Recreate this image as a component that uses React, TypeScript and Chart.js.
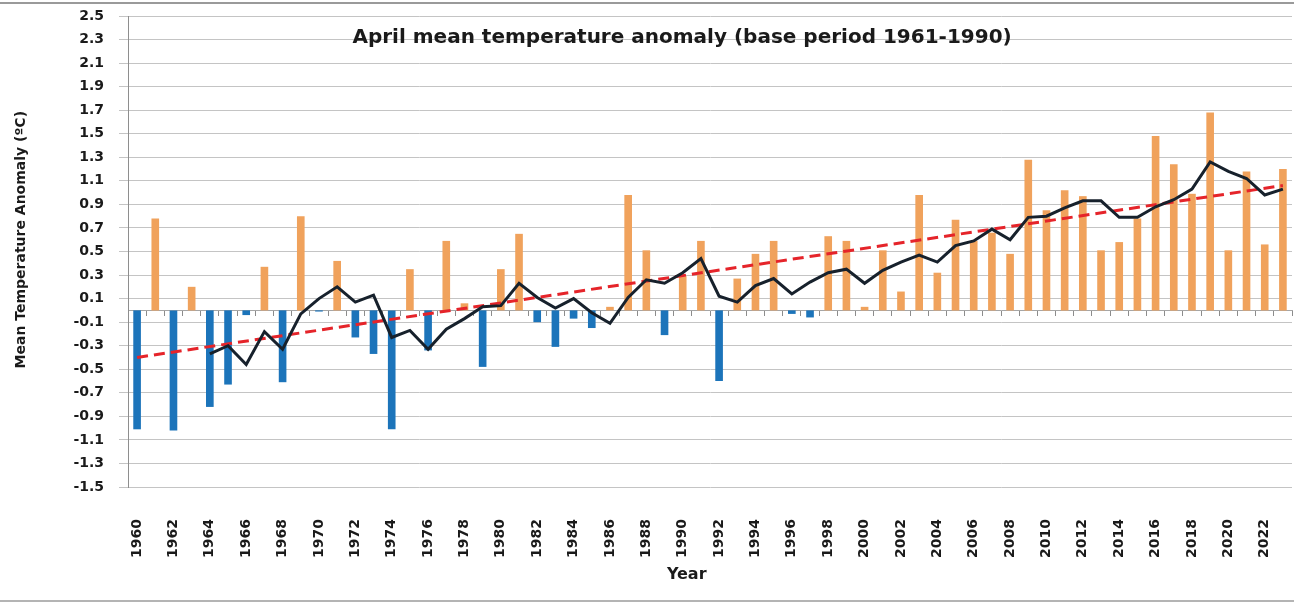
import React, { useEffect, useRef } from "react";
import { Chart, registerables } from "chart.js";

Chart.register(...registerables);

const YEARS: string[] = [
  "1960","1961","1962","1963","1964","1965","1966","1967","1968","1969",
  "1970","1971","1972","1973","1974","1975","1976","1977","1978","1979",
  "1980","1981","1982","1983","1984","1985","1986","1987","1988","1989",
  "1990","1991","1992","1993","1994","1995","1996","1997","1998","1999",
  "2000","2001","2002","2003","2004","2005","2006","2007","2008","2009",
  "2010","2011","2012","2013","2014","2015","2016","2017","2018","2019",
  "2020","2021","2022","2023",
];

const ANOMALY: number[] = [
  -1.01, 0.78, -1.02, 0.2, -0.82, -0.63, -0.04, 0.37, -0.61, 0.8,
  -0.01, 0.42, -0.23, -0.37, -1.01, 0.35, -0.34, 0.59, 0.06, -0.48,
  0.35, 0.65, -0.1, -0.31, -0.07, -0.15, 0.03, 0.98, 0.51, -0.21,
  0.29, 0.59, -0.6, 0.27, 0.48, 0.59, -0.03, -0.06, 0.63, 0.59,
  0.03, 0.51, 0.16, 0.98, 0.32, 0.77, 0.59, 0.66, 0.48, 1.28,
  0.85, 1.02, 0.97, 0.51, 0.58, 0.78, 1.48, 1.24, 0.99, 1.68,
  0.51, 1.18, 0.56, 1.2,
];

// 5-year running mean (starts at 1964)
const RUNNING_MEAN: (number | null)[] = [
  null, null, null, null, -0.37, -0.3, -0.46, -0.18, -0.33, -0.03,
  0.1, 0.2, 0.07, 0.13, -0.23, -0.17, -0.33, -0.16, -0.07, 0.03,
  0.04, 0.23, 0.11, 0.02, 0.1, -0.02, -0.11, 0.11, 0.26, 0.23,
  0.32, 0.44, 0.12, 0.07, 0.21, 0.27, 0.14, 0.24, 0.32, 0.35,
  0.23, 0.34, 0.41, 0.47, 0.41, 0.55, 0.59, 0.69, 0.6, 0.79,
  0.8, 0.87, 0.93, 0.93, 0.79, 0.79, 0.88, 0.94, 1.03, 1.26,
  1.18, 1.12, 0.98, 1.03,
];

// Linear trend end points (1960 and 2023)
const TREND_START = -0.4;
const TREND_END = 1.06;

const Y_MIN = -1.5;
const Y_MAX = 2.5;
const Y_STEP = 0.2;

const TITLE = "April mean temperature anomaly (base period 1961-1990)";
const Y_TITLE = "Mean Temperature Anomaly (ºC)";
const X_TITLE = "Year";

const ORANGE = "#F0A25C";
const BLUE = "#1C74BA";
const FONT = '"DejaVu Sans", Verdana, sans-serif';

export default function App() {
  const ref = useRef<HTMLCanvasElement | null>(null);

  useEffect(() => {
    if (!ref.current) return;
    const trend: (number | null)[] = YEARS.map((_, i) =>
      i === 0 ? TREND_START : i === YEARS.length - 1 ? TREND_END : null
    );

    const textPlugin = {
      id: "texts",
      beforeDraw(chart: any) {
        const ctx = chart.ctx;
        ctx.save();
        ctx.fillStyle = "#ffffff";
        ctx.fillRect(0, 0, chart.width, chart.height);
        ctx.strokeStyle = "#9a9a9a";
        ctx.lineWidth = 2;
        ctx.beginPath();
        ctx.moveTo(0, 3);
        ctx.lineTo(chart.width, 3);
        ctx.stroke();
        ctx.strokeStyle = "#b4b4b4";
        ctx.beginPath();
        ctx.moveTo(0, chart.height - 1);
        ctx.lineTo(chart.width, chart.height - 1);
        ctx.stroke();
        ctx.restore();
      },
      afterDraw(chart: any) {
        const ctx = chart.ctx;
        const ca = chart.chartArea;
        ctx.save();
        ctx.fillStyle = "#1a1a1a";
        ctx.textAlign = "center";
        ctx.textBaseline = "middle";
        ctx.font = `bold 20px ${FONT}`;
        ctx.fillText(TITLE, ca.left + ca.width * 0.476, ca.top + 22);
        ctx.font = `bold 16px ${FONT}`;
        ctx.fillText(X_TITLE, ca.left + ca.width * 0.48, ca.bottom + 88);
        ctx.translate(21, ca.top + ca.height * 0.475);
        ctx.rotate(-Math.PI / 2);
        ctx.font = `bold 14px ${FONT}`;
        ctx.fillText(Y_TITLE, 0, 0);
        ctx.restore();
      },
    };

    const chart = new Chart(ref.current, {
      type: "bar",
      data: {
        labels: YEARS,
        datasets: [
          {
            type: "line",
            label: "5-year mean",
            data: RUNNING_MEAN,
            borderColor: "#17212c",
            borderWidth: 3,
            pointRadius: 0,
            tension: 0,
            order: 1,
          } as any,
          {
            type: "line",
            label: "Trend",
            data: trend,
            borderColor: "#E5242A",
            borderWidth: 3,
            borderDash: [11, 6],
            pointRadius: 0,
            spanGaps: true,
            order: 2,
          } as any,
          {
            type: "bar",
            label: "Anomaly",
            data: ANOMALY,
            backgroundColor: ANOMALY.map((v) => (v >= 0 ? ORANGE : BLUE)),
            barPercentage: 0.42,
            categoryPercentage: 1,
            order: 3,
          } as any,
        ],
      },
      options: {
        responsive: false,
        animation: false,
        layout: { padding: { top: 16, right: 2, left: 0, bottom: 0 } },
        plugins: {
          legend: { display: false },
          tooltip: { enabled: false },
          title: { display: false },
        },
        scales: {
          x: {
            type: "category",
            offset: true,
            grid: { display: false, drawTicks: false },
            border: { display: false },
            ticks: {
              autoSkip: false,
              minRotation: 90,
              maxRotation: 90,
              padding: 32,
              color: "#1a1a1a",
              font: { family: FONT, size: 14, weight: "bold" },
              callback: (_v: any, i: number) => (i % 2 === 0 ? YEARS[i] : ""),
            },
            afterFit: (s: any) => {
              s.height = 115;
              s.paddingLeft = 0;
              s.paddingRight = 0;
            },
          },
          x2: {
            type: "category",
            position: { y: 0 } as any,
            offset: true,
            grid: {
              display: true,
              offset: true,
              drawOnChartArea: false,
              drawTicks: true,
              tickLength: 5,
              color: "#8c8c8c",
            },
            border: { display: true, color: "#a6a6a6", width: 1 },
            ticks: { display: false },
            afterFit: (s: any) => {
              s.paddingLeft = 0;
              s.paddingRight = 0;
            },
          },
          y: {
            type: "linear",
            min: Y_MIN,
            max: Y_MAX,
            grid: {
              color: "#c4c4c4",
              lineWidth: 1,
              tickLength: 9,
              drawTicks: true,
            },
            border: { display: true, color: "#8e8e8e" },
            ticks: {
              stepSize: Y_STEP,
              autoSkip: false,
              padding: 15,
              color: "#1a1a1a",
              font: { family: FONT, size: 14, weight: "bold" },
              callback: (v: any) => Number(v).toFixed(1),
            },
            afterFit: (s: any) => {
              s.width = 128;
              s.paddingTop = 0;
              s.paddingBottom = 0;
            },
          },
        },
      },
      plugins: [textPlugin],
    } as any);

    return () => chart.destroy();
  }, []);

  return (
    <div style={{ position: "absolute", left: 0, top: 0, width: 1294, height: 602 }}>
      <canvas ref={ref} width={1294} height={602} />
    </div>
  );
}
